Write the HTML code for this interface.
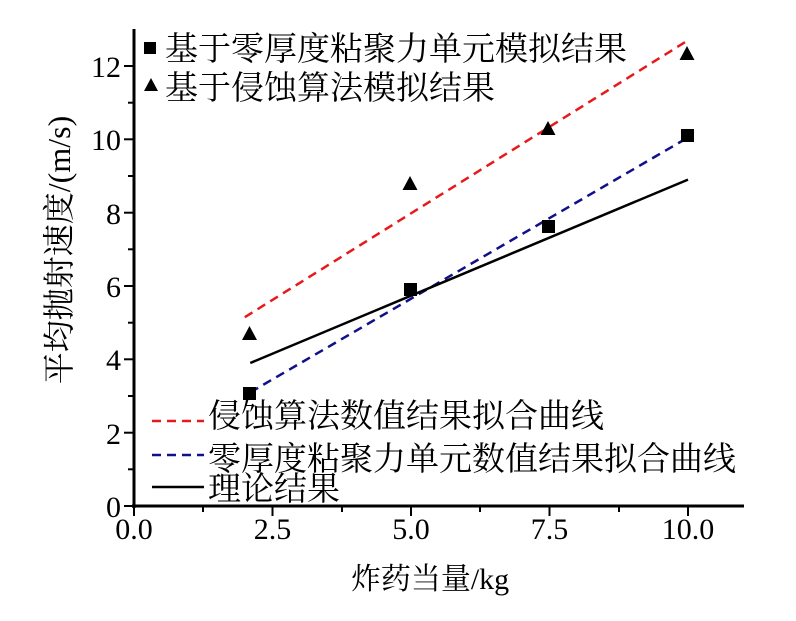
<!DOCTYPE html>
<html><head><meta charset="utf-8"><style>
body{margin:0;background:#fff}
svg{display:block}
text{font-family:"Liberation Serif","Noto Serif CJK SC",serif;fill:#000}
</style></head><body>
<svg width="796" height="621" viewBox="0 0 796 621">
<g stroke="#000" stroke-width="3" fill="none">
<line x1="134" y1="29" x2="134" y2="508"/>
<line x1="132" y1="506" x2="744" y2="506"/>
</g>
<g stroke="#000" stroke-width="2">
<line x1="134" y1="506" x2="134" y2="516"/><line x1="272.5" y1="506" x2="272.5" y2="516"/><line x1="411" y1="506" x2="411" y2="516"/><line x1="549.5" y1="506" x2="549.5" y2="516"/><line x1="688" y1="506" x2="688" y2="516"/>
<line x1="203" y1="506" x2="203" y2="512"/><line x1="342" y1="506" x2="342" y2="512"/><line x1="480" y1="506" x2="480" y2="512"/><line x1="619" y1="506" x2="619" y2="512"/>
<line x1="124" y1="506" x2="134" y2="506"/><line x1="124" y1="432.7" x2="134" y2="432.7"/><line x1="124" y1="359.3" x2="134" y2="359.3"/><line x1="124" y1="286" x2="134" y2="286"/><line x1="124" y1="212.7" x2="134" y2="212.7"/><line x1="124" y1="139.3" x2="134" y2="139.3"/><line x1="124" y1="66" x2="134" y2="66"/>
<line x1="128" y1="469.3" x2="134" y2="469.3"/><line x1="128" y1="396" x2="134" y2="396"/><line x1="128" y1="322.7" x2="134" y2="322.7"/><line x1="128" y1="249.3" x2="134" y2="249.3"/><line x1="128" y1="176" x2="134" y2="176"/><line x1="128" y1="102.7" x2="134" y2="102.7"/>
</g>
<g font-size="30" text-anchor="middle">
<text x="134" y="539">0.0</text><text x="272.5" y="539">2.5</text><text x="411" y="539">5.0</text><text x="549.5" y="539">7.5</text><text x="688" y="539">10.0</text>
</g>
<g font-size="30" text-anchor="end">
<text x="121" y="517">0</text><text x="121" y="444">2</text><text x="121" y="370">4</text><text x="121" y="297">6</text><text x="121" y="224">8</text><text x="121" y="150">10</text><text x="121" y="77">12</text>
</g>
<text x="430" y="589" font-size="30" text-anchor="middle">炸药当量/kg</text>
<text transform="translate(70,250) rotate(-90)" font-size="32" text-anchor="middle">平均抛射速度/(m/s)</text>
<line x1="244.8" y1="317.2" x2="688" y2="40.3" stroke="#e8191b" stroke-width="2.5" stroke-dasharray="9,6"/>
<line x1="250.3" y1="392.3" x2="688" y2="137.5" stroke="#10108a" stroke-width="2.5" stroke-dasharray="9,6"/>
<line x1="250.3" y1="363" x2="688" y2="179.6" stroke="#000" stroke-width="2.5"/>
<g fill="#000">
<rect x="243" y="387" width="13" height="13"/><rect x="404" y="283" width="13" height="13"/><rect x="542" y="220" width="13" height="13"/><rect x="681" y="129" width="13" height="13"/>
<polygon points="249.5,326 242,340 257,340"/><polygon points="410,176 402.5,190 417.5,190"/><polygon points="548,121 540.5,135 555.5,135"/><polygon points="687,46 679.5,60 694.5,60"/>
<rect x="144" y="42" width="12" height="12"/>
<polygon points="151,78 144,91 158,91"/>
</g>
<g font-size="33">
<text x="165" y="60">基于零厚度粘聚力单元模拟结果</text>
<text x="165" y="99">基于侵蚀算法模拟结果</text>
<text x="208" y="427">侵蚀算法数值结果拟合曲线</text>
<text x="208" y="470">零厚度粘聚力单元数值结果拟合曲线</text>
<text x="208" y="500">理论结果</text>
</g>
<line x1="152" y1="421" x2="204" y2="421" stroke="#e8191b" stroke-width="2.5" stroke-dasharray="9,6"/>
<line x1="152" y1="455" x2="204" y2="455" stroke="#10108a" stroke-width="2.5" stroke-dasharray="9,6"/>
<line x1="152" y1="487" x2="204" y2="487" stroke="#000" stroke-width="2.5"/>
</svg>
</body></html>
